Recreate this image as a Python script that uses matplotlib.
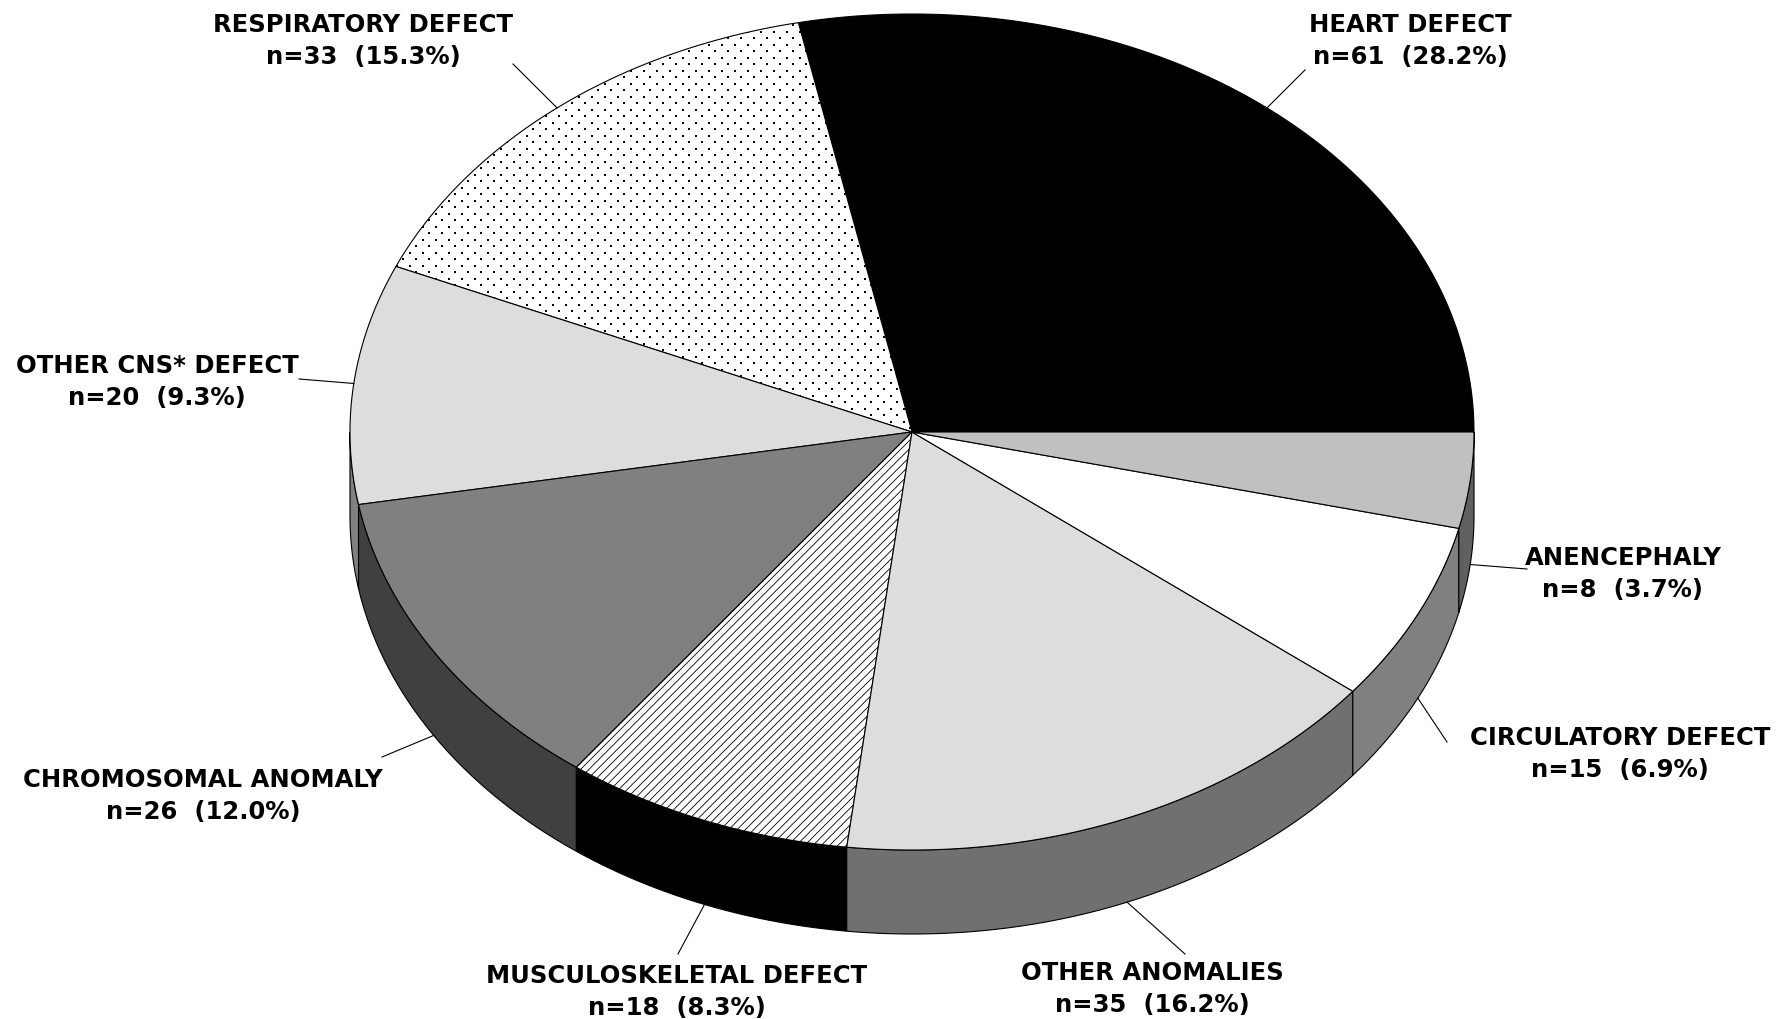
import numpy as np
import matplotlib.pyplot as plt
from matplotlib.patches import Polygon

# ── Data ──────────────────────────────────────────────────────────────────────
labels = ["HEART DEFECT", "RESPIRATORY DEFECT", "OTHER CNS* DEFECT",
          "CHROMOSOMAL ANOMALY", "MUSCULOSKELETAL DEFECT", "OTHER ANOMALIES",
          "CIRCULATORY DEFECT", "ANENCEPHALY"]
counts = [61, 33, 20, 26, 18, 35, 15, 8]

# ── Styling ───────────────────────────────────────────────────────────────────
top_colors  = ["#000000", "#ffffff", "#dddddd", "#808080",
               "#ffffff", "#dddddd", "#ffffff", "#c0c0c0"]
side_colors = ["#000000", "#ffffff", "#808080", "#404040",
               "#000000", "#707070", "#808080", "#606060"]
textures    = [None, "dots", None, None, "////", None, None, None]

# label centre x, baseline of first line, outer end of the leader line
label_x     = [1410, 363, 157, 203, 677, 1152, 1620, 1623]
label_y     = [32, 32, 373, 787, 983, 980, 745, 565]
leader_end  = [(1305, 71), (513, 65), (299, 380), (382, 758),
               (678, 955), (1185, 955), (1447, 743), (1527, 570)]

# pie geometry in pixels (figure is drawn in pixel coordinates)
W, H = 1787, 1020
CX, CY = 912, 433
RX, RY = 562, 418
DEPTH = 84
LINE_GAP = 32
EDGE_LW = 0.8


def ellipse_pt(t, dy=0.0):
    return CX + RX * np.cos(t), CY - RY * np.sin(t) + dy


def main():
    plt.rcParams["hatch.linewidth"] = 0.6
    fig = plt.figure(figsize=(W / 100, H / 100), dpi=100)
    ax = fig.add_axes([0, 0, 1, 1])
    ax.set_xlim(0, W)
    ax.set_ylim(H, 0)
    ax.axis("off")

    total = sum(counts)
    bounds = np.concatenate([[0], np.cumsum(counts)]) / total * 2 * np.pi

    # side walls (only the front half is visible)
    for i in range(len(counts)):
        lo = max(bounds[i], np.pi)
        hi = min(bounds[i + 1], 2 * np.pi)
        if hi <= lo:
            continue
        t = np.linspace(lo, hi, 120)
        tx, ty = ellipse_pt(t)
        bx, by = ellipse_pt(t[::-1], DEPTH)
        pts = np.column_stack([np.concatenate([tx, bx]), np.concatenate([ty, by])])
        ax.add_patch(Polygon(pts, closed=True, facecolor=side_colors[i],
                             edgecolor="black", linewidth=EDGE_LW, zorder=1))

    # top faces
    for i in range(len(counts)):
        t = np.linspace(bounds[i], bounds[i + 1], 200)
        ex, ey = ellipse_pt(t)
        pts = np.column_stack([np.concatenate([[CX], ex]), np.concatenate([[CY], ey])])
        tex = textures[i]
        wedge = Polygon(pts, closed=True, facecolor=top_colors[i],
                        edgecolor="black", linewidth=EDGE_LW, zorder=2,
                        hatch=tex if tex and tex != "dots" else None)
        ax.add_patch(wedge)

        if tex == "dots":
            # staggered dot screen, clipped to the wedge
            gx, gy = [], []
            for k, y in enumerate(np.arange(0, CY + 10, 6.5)):
                xs = np.arange(6.5 if k % 2 else 0, W, 13)
                gx.extend(xs)
                gy.extend([y] * len(xs))
            sc = ax.scatter(gx, gy, s=3.5, marker="s", color="black",
                            linewidths=0, zorder=3)
            sc.set_clip_path(wedge)

    # labels with leader lines
    for i, name in enumerate(labels):
        mid = (bounds[i] + bounds[i + 1]) / 2
        front = np.sin(mid) < 0
        px, py = ellipse_pt(mid, DEPTH if front else 0)
        ox, oy = leader_end[i]
        ax.plot([px, ox], [py, oy], color="black", linewidth=0.8, zorder=4)

        pct = counts[i] / total * 100
        ax.text(label_x[i], label_y[i], name, ha="center", va="baseline",
                fontsize=17.5, fontweight="bold", family="DejaVu Sans")
        ax.text(label_x[i], label_y[i] + LINE_GAP, f"n={counts[i]}  ({pct:.1f}%)",
                ha="center", va="baseline", fontsize=17.5, fontweight="bold",
                family="DejaVu Sans")

    fig.savefig("out.png", dpi=100)
    plt.close(fig)


if __name__ == "__main__":
    main()
